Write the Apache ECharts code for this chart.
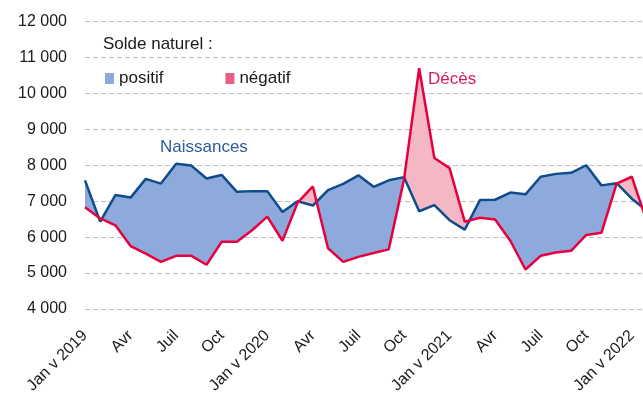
<!DOCTYPE html>
<html>
<head>
<meta charset="utf-8">
<script src="https://cdn.jsdelivr.net/npm/echarts@6/dist/echarts.min.js"></script>
<style>
  html, body { margin: 0; padding: 0; background: #fff; }
  #chart { width: 643px; height: 401px; }
</style>
</head>
<body>
<div id="chart"></div>
<script>
// mois (janv 2019 -> févr 2022, le dernier point sort du cadre)
var mois = ['2019-01','2019-02','2019-03','2019-04','2019-05','2019-06','2019-07','2019-08','2019-09','2019-10','2019-11','2019-12',
            '2020-01','2020-02','2020-03','2020-04','2020-05','2020-06','2020-07','2020-08','2020-09','2020-10','2020-11','2020-12',
            '2021-01','2021-02','2021-03','2021-04','2021-05','2021-06','2021-07','2021-08','2021-09','2021-10','2021-11','2021-12',
            '2022-01','2022-02'];
// libellés affichés un mois sur trois
var tickLabels = ['Jan v 2019','Avr','Juil','Oct','Jan v 2020','Avr','Juil','Oct','Jan v 2021','Avr','Juil','Oct','Jan v 2022'];

var naissances = [7580, 6430, 7170, 7100, 7620, 7490, 8040, 7990, 7630, 7730, 7260, 7280,
                  7280, 6700, 7000, 6880, 7310, 7480, 7720, 7400, 7580, 7670, 6720, 6890,
                  6470, 6210, 7030, 7040, 7240, 7190, 7680, 7760, 7790, 8000, 7440, 7500,
                  7070, 6730];
var deces = [6830, 6520, 6330, 5750, 5540, 5310, 5480, 5480, 5230, 5870, 5870, 6190,
             6570, 5900, 6960, 7410, 5690, 5310, 5450, 5560, 5660, 7600, 10700, 8200,
             7920, 6430, 6540, 6490, 5900, 5100, 5480, 5570, 5620, 6060, 6120, 7490,
             7680, 6420];

var yTicks = { min: 4000, max: 12000, step: 1000 };

var FONT = "'Liberation Sans', Arial, sans-serif";
var bleuFond = '#8EA9DB', roseFond = '#F4B8C5';
var bleuLigne = '#0F4C8A', rougeLigne = '#E6003E';

var chart = echarts.init(document.getElementById('chart'));

// zones entre les deux courbes, découpées aux croisements, une seule passe
function renderSolde(sign, color) {
  return function (params, api) {
    if (params.dataIndex !== 0) return;
    var n = naissances.length;
    var polys = [];
    var top = [api.coord([0, naissances[0]])], bot = [api.coord([0, deces[0]])];
    var cur = naissances[0] - deces[0] >= 0 ? 1 : -1;
    for (var i = 0; i < n - 1; i++) {
      var d1 = naissances[i] - deces[i], d2 = naissances[i + 1] - deces[i + 1];
      var pA = api.coord([i, naissances[i]]), pB = api.coord([i + 1, naissances[i + 1]]);
      if (d1 * d2 < 0) {
        var t = d1 / (d1 - d2);
        var x = [pA[0] + t * (pB[0] - pA[0]), pA[1] + t * (pB[1] - pA[1])];
        top.push(x); bot.push(x);
        if (cur === sign) polys.push(top.concat(bot.slice().reverse()));
        top = [x]; bot = [x];
        cur = d2 > 0 ? 1 : -1;
      }
      top.push(pB);
      bot.push(api.coord([i + 1, deces[i + 1]]));
    }
    if (cur === sign) polys.push(top.concat(bot.slice().reverse()));
    return {
      type: 'group',
      children: polys.map(function (p) {
        return { type: 'polygon', shape: { points: p }, style: { fill: color } };
      })
    };
  };
}

var segData = naissances.map(function (v, i) { return [i, v]; });

chart.setOption({
  animation: false,
  textStyle: { fontFamily: FONT },
  grid: { left: 85, width: 562, top: 21.5, bottom: 92, outerBoundsMode: 'none', containLabel: false },
  legend: {
    left: 100, top: 65,
    icon: 'rect', itemWidth: 9, itemHeight: 11, itemGap: 62,
    textStyle: { fontSize: 17, color: '#1a1a1a', fontFamily: FONT },
    data: [
      { name: 'positif', itemStyle: { color: bleuFond } },
      { name: 'négatif', itemStyle: { color: '#EA5F84' } }
    ]
  },
  xAxis: {
    type: 'category',
    data: mois,
    boundaryGap: false,
    axisLine: { show: false },
    axisTick: { show: false },
    axisLabel: {
      interval: 0, rotate: 45, margin: 24,
      fontSize: 16, color: '#1a1a1a', fontFamily: FONT,
      formatter: function (v, idx) { return idx % 3 === 0 ? (tickLabels[idx / 3] || '') : ''; }
    },
    splitLine: { show: false }
  },
  yAxis: {
    type: 'value',
    min: yTicks.min, max: yTicks.max, interval: yTicks.step,
    axisLine: { show: false },
    axisTick: { show: false },
    axisLabel: {
      margin: 18, fontSize: 16, color: '#1a1a1a', fontFamily: FONT,
      formatter: function (v) { return String(v).replace(/\B(?=(\d{3})+(?!\d))/g, ' '); }
    },
    splitLine: { lineStyle: { color: '#BDBDBD', width: 1, type: [5, 3] } }
  },
  graphic: [
    { type: 'text', left: 103, top: 36, style: { text: 'Solde naturel :', fontSize: 17, fill: '#1a1a1a', fontFamily: FONT } },
    { type: 'text', left: 160, top: 139, style: { text: 'Naissances', fontSize: 17, fill: '#2E5C96', fontFamily: FONT } },
    { type: 'text', left: 428, top: 71, style: { text: 'Décès', fontSize: 17, fill: '#D81B57', fontFamily: FONT } }
  ],
  series: [
    { name: 'positif', type: 'custom', renderItem: renderSolde(1, bleuFond), data: segData, z: 1,
      itemStyle: { color: bleuFond }, clip: true },
    { name: 'négatif', type: 'custom', renderItem: renderSolde(-1, roseFond), data: segData, z: 1,
      itemStyle: { color: roseFond }, clip: true },
    { name: 'Naissances', type: 'line', data: naissances, symbol: 'none', z: 3,
      lineStyle: { color: bleuLigne, width: 2.5 }, itemStyle: { color: bleuLigne } },
    { name: 'Décès', type: 'line', data: deces, symbol: 'none', z: 4,
      lineStyle: { color: rougeLigne, width: 2.5 }, itemStyle: { color: rougeLigne } }
  ]
});
</script>
</body>
</html>
